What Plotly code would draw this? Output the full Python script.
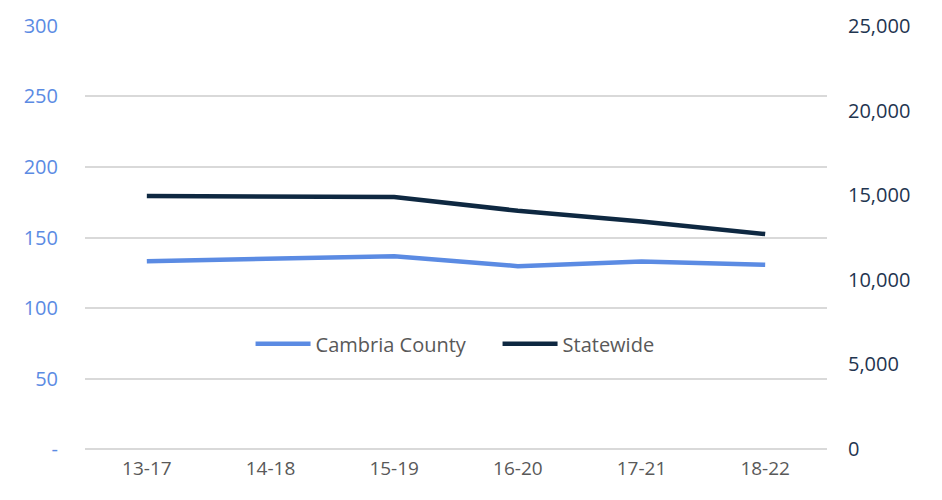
import plotly.graph_objects as go

periods = ["13-17", "14-18", "15-19", "16-20", "17-21", "18-22"]
cambria = [133.2, 134.9, 136.7, 129.7, 133.0, 130.6]
statewide = [14950, 14920, 14890, 14080, 13440, 12700]
left_ticks = [0, 50, 100, 150, 200, 250, 300]
left_labels = ["-", "50", "100", "150", "200", "250", "300"]
right_ticks = [0, 5000, 10000, 15000, 20000, 25000]
right_labels = ["0", "5,000", "10,000", "15,000", "20,000", "25,000"]

font = "Open Sans, Lato, sans-serif"
fig = go.Figure()
fig.add_trace(go.Scatter(x=periods, y=cambria, name="Cambria County", mode="lines",
                         line=dict(color="#5B8BE3", width=4.5), yaxis="y"))
fig.add_trace(go.Scatter(x=periods, y=statewide, name="Statewide", mode="lines",
                         line=dict(color="#0E2841", width=4.5), yaxis="y2"))

fig.update_layout(
    width=942, height=500,
    margin=dict(l=85, r=115, t=19, b=50),
    plot_bgcolor="white", paper_bgcolor="white",
    font=dict(family=font, size=19, color="#595959"),
    xaxis=dict(type="category", range=[-0.5, 5.5], showgrid=False, showline=False, ticks="",
               tickfont=dict(size=19, color="#595959"), ticklabelstandoff=5),
    yaxis=dict(range=[-0.6, 300.6], tickvals=left_ticks, ticktext=left_labels,
               showgrid=True, gridcolor="#D9D9D9", gridwidth=1.5,
               zeroline=True, zerolinecolor="#D9D9D9", zerolinewidth=1.5,
               tickfont=dict(size=20, color="#5B8BE3"), ticklabelstandoff=26),
    yaxis2=dict(range=[-50, 25050], tickvals=right_ticks, ticktext=right_labels,
                overlaying="y", side="right", showgrid=False, zeroline=False,
                tickfont=dict(size=20, color="#1F3550"), ticklabelstandoff=20),
    legend=dict(orientation="h", x=0.556, xanchor="center", y=0.25, yanchor="middle",
                bgcolor="rgba(255,255,255,0)", font=dict(size=20, color="#595959"),
                itemwidth=55, entrywidth=177, entrywidthmode="pixels"),
    showlegend=True,
)
fig.write_html("out.html")
